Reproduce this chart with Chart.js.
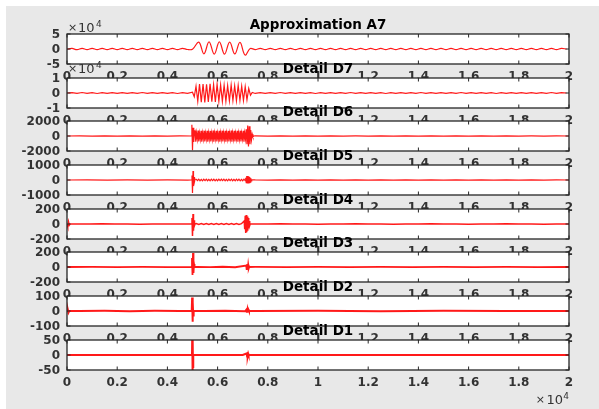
<!DOCTYPE html>
<html>
<head>
<meta charset="utf-8">
<script src="https://cdn.jsdelivr.net/npm/chart.js@4.4.1/dist/chart.umd.min.js"></script>
<style>
  body { margin: 0; background: #fff; }
  #fig { position: absolute; left: 6px; top: 6px; width: 593px; height: 403px; background: #e8e8e8; }
  canvas { position: absolute; left: 0; top: 0; }
</style>
</head>
<body>
<div id="fig"></div>
<div id="wrap"></div>
<script>
// each series is a list of segments: [first x, x step, y values]
const A7 = [
  [0, 200, [-600,1800,-2200,2000,-1800,2200,-2000,1900,-2300,2100,-1900,2200,-2100,1800,-2000,2300,-2200,1900,-1800,2100,-2200,2000,-1900,2200,-1700,-500]],
  [5250, 205, [23000,-16000,24000,-17000,23500,-17000,23000,-16500,22000,-20000,1500]],
  [7500, 200, [-2000,2100,-1900,2200,-2100,1900,-2200,2000,-1800,2100,-2200,2000,-1900,2200,-2000,1800,-2100,2200,-2000,1900,-2200,2100,-1900,2000,-2200,2100,-1800,2000,-2100,2200,-2000,1900,-2200,2000,-1900,2200,-2100,1800,-2000,2100,-2200,1900,-2000,2200,-1900,2000,-2100,2200,-1800,2000,-2200,2100,-1900,2000,-2100,2200,-2000,1900,-2200,2000,-1900,2100,-500]]
];
const D7 = [
  [0, 200, [0,300,-250,320,-300,280,-320,300,-260,310,-300,270,-310,290,-280,320,-300,260,-290,310,-270,300,-320,280,-200]],
  [5000, 70, [500,-2500,4500,-5500,6000,-6200,6000,-6300,5800,-6000,6200,-5800,5600,-6000,5800,-5500,5400,-5600,5200,-5500,5000,-5300,5200,-5000,4800,-5200,5000,-4800,4600,-5000,4200,-4500,3000,-1500,400]],
  [7500, 200, [-300,280,-310,300,-260,320,-290,270,-300,310,-280,300,-320,260,-290,310,-300,280,-270,320,-300,290,-310,260,-280,300,-320,290,-260,310,-300,280,-290,320,-270,300,-310,260,-300,290,-280,320,-300,270,-310,290,-260,300,-320,280,-290,310,-300,270,-280,300,-310,290,-260,320,-300,280,0]]
];
const D6 = [
  [0, 500, [0,12,-10,15,-12,10,-15,12,-10,5]],
  [4950, 25, [0,1500,-1900,1100,-800,600]],
  [5100, 30, [700,-760,380,-420,720,-740,360,-400,690,-750,370,-410,710,-730,350,-390,700,-760,380,-400,680,-740,360,-420,720,-750,370,-390,700,-730,350,-410,690,-760,380,-400,710,-740,360,-420,700,-750,370,-390,680,-730,350,-400,720,-760,380,-410,700,-740,360,-390,690,-750,370,-420,710,-730,350,-400,700,-760,380,-410]],
  [7140, 30, [900,-1100,1400,-1400,1300,-1100,800,-500,250,-100,0]],
  [7500, 500, [10,-12,15,-10,12,-15,10,-12,6,-10,12,-15,10,-6,12,-10,15,-12,10,-6,12,-10,6,-12,10,0]]
];
const D5 = [
  [0, 800, [0,5,-4,6,-5,4,-3]],
  [4960, 20, [0,300,-870,600,-400,200,-100,50]],
  [5150, 50, [50,-40,60,-50,40,-60,50,-40,60,-50,40,-50,60,-40,50,-60,40,-50,60,-40,50,-40,60,-50,40,-60,50,-40,60,-50,40,-50,60,-40,50,-60,40,-50,60,-40]],
  [7120, 20, [150,-180,260,-200,270,-190,250,-180,200,-140,120,-60,20]],
  [7500, 500, [6,-5,4,-6,5,-4,6,-5,4,-6,5,-4,6,-5,4,-6,5,-4,6,-5,4,-6,5,-4,6,0]]
];
const D4 = [
  [0, 30, [0,-35,30,-15,0]],
  [400, 500, [1,-1,2,-1,1,-2,1,-1,1]],
  [4960, 20, [0,80,-160,133,-90,50,-20,0]],
  [5150, 100, [6,-5,7,-6,5,-7,6,-5,7,-6,5,-6,7,-5,6,-7,5,-6,4]],
  [7060, 20, [40,-70,110,-120,120,-110,100,-90,80,-60,40,-20,0]],
  [7500, 500, [1,-1,2,-1,1,-2,1,-1,2,-1,1,-2,1,-1,2,-1,1,-2,1,-1,2,-1,1,-2,1,0]]
];
const D3 = [
  [0, 1000, [0,1,-1,1,-1]],
  [4960, 20, [0,120,-107,187,-80,40,0]],
  [5200, 500, [2,-2,3,-3]],
  [7140, 20, [20,-40,40,-35,30,-20,0]],
  [7500, 1250, [1,-1,1,-1,1,-1,1,-1,1,-1,0]]
];
const D2 = [
  [0, 30, [0,12,-10,0]],
  [500, 1000, [0,1,-1,1,0]],
  [4970, 15, [0,90,-72,60,-30,0]],
  [5500, 800, [0,1,-1]],
  [7150, 20, [9,-10,10,-9,8,0]],
  [7500, 2500, [0,1,-1,1,0,0]]
];
const D1 = [
  [0, 2500, [0,0]],
  [4980, 10, [0,70,-70,60,-40,0]],
  [6000, 1000, [0,0]],
  [7160, 15, [5,-5,5,-5,4,0]],
  [8000, 12000, [0,0]]
];

const series = [A7, D7, D6, D5, D4, D3, D2, D1];
const titles = ['Approximation A7', 'Detail D7', 'Detail D6', 'Detail D5', 'Detail D4', 'Detail D3', 'Detail D2', 'Detail D1'];
const yLimits = [50000, 10000, 2000, 1000, 200, 200, 100, 50];
const yTickLabels = [['-5','0','5'], ['-1','0','1'], ['-2000','0','2000'], ['-1000','0','1000'],
                     ['-200','0','200'], ['-200','0','200'], ['-100','0','100'], ['-50','0','50']];
const xTicks = [0, 2000, 4000, 6000, 8000, 10000, 12000, 14000, 16000, 18000, 20000];
const xTickLabels = ['0','0.2','0.4','0.6','0.8','1','1.2','1.4','1.6','1.8','2'];

// figure layout
const W = 599, H = 409;
const boxLeft = 67, boxRight = 569, boxH = 30;
const boxTops = [34, 78, 121, 165, 209, 252, 296, 340];
const lineWidths = [1.2, 1.2, 1.2, 1.2, 1.5, 1.8, 2, 2];
const expOffsets = [2, 5];
const FONT = '"DejaVu Sans"';

function toPoints(segs) {
  const pts = [];
  segs.forEach(([x0, step, ys]) => ys.forEach((y, i) => pts.push({ x: x0 + i * step, y })));
  return pts;
}

function drawExp(ctx, x, base, align) {
  // "×10^4" label
  ctx.fillStyle = '#333';
  ctx.textBaseline = 'alphabetic';
  if (align === 'left') {
    ctx.textAlign = 'left';
    ctx.font = '11px ' + FONT; ctx.fillText('\u00d7', x, base - 1);
    ctx.font = '13px ' + FONT; ctx.fillText('10', x + 10, base);
    ctx.font = '9px ' + FONT; ctx.fillText('4', x + 28, base - 5);
  } else {
    ctx.textAlign = 'right';
    ctx.font = '9px ' + FONT; ctx.fillText('4', x, base - 5);
    ctx.font = '13px ' + FONT; ctx.fillText('10', x - 6, base);
    ctx.font = '11px ' + FONT; ctx.fillText('\u00d7', x - 24, base - 1);
  }
}

const subplotFrame = {
  id: 'subplotFrame',
  beforeDraw(chart) {
    const a = chart.chartArea, ctx = chart.ctx;
    ctx.save();
    ctx.fillStyle = '#fff';
    ctx.fillRect(a.left, a.top, a.right - a.left, a.bottom - a.top);
    ctx.restore();
  },
  afterDraw(chart, args, o) {
    const a = chart.chartArea, ctx = chart.ctx;
    const xs = chart.scales.x, ys = chart.scales.y;
    const tl = 3.5;
    ctx.save();
    ctx.strokeStyle = '#262626';
    ctx.lineWidth = 1.3;
    ctx.strokeRect(a.left, a.top, a.right - a.left, a.bottom - a.top);
    ctx.lineWidth = 1;
    ctx.beginPath();
    xTicks.forEach(v => {
      const px = xs.getPixelForValue(v);
      ctx.moveTo(px, a.bottom); ctx.lineTo(px, a.bottom - tl);
      ctx.moveTo(px, a.top); ctx.lineTo(px, a.top + tl);
    });
    const yVals = [-o.lim, 0, o.lim];
    yVals.forEach(v => {
      const py = ys.getPixelForValue(v);
      ctx.moveTo(a.left, py); ctx.lineTo(a.left + tl, py);
      ctx.moveTo(a.right, py); ctx.lineTo(a.right - tl, py);
    });
    ctx.stroke();

    ctx.fillStyle = '#333';
    ctx.font = 'bold 12px ' + FONT;
    ctx.textBaseline = 'alphabetic';
    ctx.textAlign = 'center';
    xTicks.forEach((v, i) => ctx.fillText(xTickLabels[i], xs.getPixelForValue(v), a.bottom + 16));
    ctx.textAlign = 'right';
    yVals.forEach((v, i) => ctx.fillText(o.yLabels[i], a.left - 7, ys.getPixelForValue(v) + 4.3));

    ctx.fillStyle = '#000';
    ctx.font = 'bold 13.5px ' + FONT;
    ctx.textAlign = 'center';
    ctx.fillText(o.title, (a.left + a.right) / 2, a.top - 5.5);

    if (o.expOffset != null) drawExp(ctx, a.left + 1, a.top - o.expOffset, 'left');
    if (o.bottomExp) drawExp(ctx, a.right, a.bottom + 34, 'right');
    ctx.restore();
  }
};

const wrap = document.getElementById('wrap');
series.forEach((segs, k) => {
  const cv = document.createElement('canvas');
  cv.width = W; cv.height = H;
  wrap.appendChild(cv);
  new Chart(cv, {
    type: 'line',
    data: {
      datasets: [{
        data: toPoints(segs),
        borderColor: 'rgba(255,0,0,0.9)',
        borderWidth: lineWidths[k],
        pointRadius: 0,
        tension: k === 0 ? 0.4 : 0,
        fill: false,
        clip: 0
      }]
    },
    options: {
      responsive: false,
      animation: false,
      events: [],
      layout: { padding: { left: boxLeft, right: W - boxRight, top: boxTops[k], bottom: H - boxTops[k] - boxH } },
      scales: {
        x: { type: 'linear', min: 0, max: 20000, display: false },
        y: { type: 'linear', min: -yLimits[k], max: yLimits[k], display: false }
      },
      plugins: {
        legend: { display: false },
        tooltip: { enabled: false },
        subplotFrame: {
          title: titles[k],
          lim: yLimits[k],
          yLabels: yTickLabels[k],
          expOffset: k < 2 ? expOffsets[k] : null,
          bottomExp: k === series.length - 1
        }
      }
    },
    plugins: [subplotFrame]
  });
});
</script>
</body>
</html>
